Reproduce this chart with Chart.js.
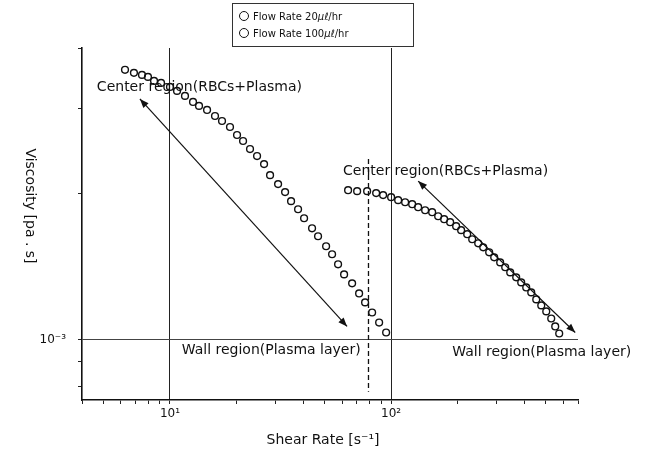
<!DOCTYPE html>
<html>
<head>
<meta charset="utf-8">
<script src="https://cdn.jsdelivr.net/npm/chart.js@4"></script>
<style>
  html, body { margin: 0; padding: 0; background: #fff; }
  #wrap { position: relative; width: 645px; height: 463px; }
  #legend { position: absolute; left: 232px; top: 3px; width: 182px; height: 44px; border: 1px solid #333;
            box-sizing: border-box; padding: 4px 0 0 6px; font-family: "DejaVu Sans", sans-serif; font-size: 10px; color: #111; }
  #legend .row { height: 17px; line-height: 17px; white-space: nowrap; }
  #legend .dot { display: inline-block; width: 8px; height: 8px; border: 1px solid #111; border-radius: 50%; margin-right: 4px; vertical-align: -1px; }
</style>
</head>
<body>
<div id="wrap">
  <canvas id="theChart" width="645" height="463"></canvas>
  <div id="legend"></div>
</div>
<script>
// series names
const seriesNames = ['Flow Rate 20μℓ/hr', 'Flow Rate 100μℓ/hr'];

// 20 ul/hr
const shearLow = [6.26, 6.87, 7.47, 7.95, 8.47, 9.11, 10.0, 10.76, 11.69, 12.71, 13.53, 14.71, 15.98, 17.19, 18.68,
  20.10, 21.40, 23.01, 24.76, 26.63, 28.35, 30.82, 33.15, 35.28, 37.95, 40.40, 43.90, 46.73, 50.81, 54.08,
  57.56, 61.28, 66.62, 71.65, 76.26, 82.04, 88.26, 94.93];
const viscLow = [3.606e-3, 3.554e-3, 3.520e-3, 3.486e-3, 3.421e-3, 3.388e-3, 3.324e-3, 3.262e-3, 3.185e-3, 3.095e-3,
  3.037e-3, 2.979e-3, 2.895e-3, 2.827e-3, 2.747e-3, 2.645e-3, 2.570e-3, 2.474e-3, 2.393e-3, 2.303e-3,
  2.185e-3, 2.094e-3, 2.016e-3, 1.931e-3, 1.858e-3, 1.780e-3, 1.697e-3, 1.634e-3, 1.558e-3, 1.500e-3,
  1.430e-3, 1.363e-3, 1.306e-3, 1.245e-3, 1.193e-3, 1.137e-3, 1.084e-3, 1.034e-3];

// 100 ul/hr
const shearHigh = [63.89, 70.19, 77.89, 85.56, 91.99, 100.0, 107.6, 115.7, 124.5, 132.5, 142.5, 153.3, 163.2, 173.7,
  184.9, 196.8, 207.3, 220.8, 232.6, 247.6, 260.9, 277.6, 292.5, 311.3, 328.0, 345.6, 367.8, 387.5, 408.3,
  430.2, 453.2, 477.5, 503.0, 529.7, 552.2, 575.6];
const viscHigh = [2.034e-3, 2.025e-3, 2.025e-3, 2.006e-3, 1.987e-3, 1.968e-3, 1.940e-3, 1.921e-3, 1.903e-3, 1.876e-3,
  1.849e-3, 1.832e-3, 1.797e-3, 1.772e-3, 1.747e-3, 1.714e-3, 1.682e-3, 1.650e-3, 1.611e-3, 1.580e-3,
  1.550e-3, 1.514e-3, 1.478e-3, 1.443e-3, 1.410e-3, 1.376e-3, 1.344e-3, 1.312e-3, 1.281e-3, 1.251e-3,
  1.210e-3, 1.176e-3, 1.143e-3, 1.105e-3, 1.064e-3, 1.029e-3];

// axes
const xTicks = [4, 5, 6, 7, 8, 9, 10, 20, 30, 40, 50, 60, 70, 80, 90, 100, 200, 300, 400, 500, 600, 700];
const yTicks = [8e-4, 9e-4, 1e-3, 2e-3, 3e-3, 4e-3];
const xTickLabels = {10: '10¹', 100: '10²'};
const yTickLabels = {'0.001': '10⁻³'};
const xTitle = 'Shear Rate [s⁻¹]';
const yTitle = 'Viscosity [pa . s]';

// annotations (data coords)
const regionTexts = [
  {text: 'Center region(RBCs+Plasma)', x: 4.67, y: 3.32e-3},
  {text: 'Center region(RBCs+Plasma)', x: 60.6, y: 2.22e-3},
  {text: 'Wall region(Plasma layer)', x: 11.3, y: 9.49e-4},
  {text: 'Wall region(Plasma layer)', x: 189, y: 9.4e-4}
];
const arrowLines = [
  [[7.31, 3.14e-3], [63.2, 1.064e-3]],
  [[132.5, 2.124e-3], [680, 1.034e-3]]
];
const dashX = 79;
const dashY = [2.36e-3, 7.8e-4];

const FONT = '"DejaVu Sans", sans-serif';

// legend
document.getElementById('legend').innerHTML = seriesNames.map(n =>
  '<div class="row"><span class="dot"></span>' + n.replace('μℓ', '<i>μℓ</i>') + '</div>').join('');

function toPts(xs, ys) {
  return xs.map((v, i) => ({x: v, y: ys[i]}));
}

function arrowHead(ctx, x1, y1, x2, y2) {
  const a = Math.atan2(y2 - y1, x2 - x1);
  const len = 9, w = 3.5;
  ctx.beginPath();
  ctx.moveTo(x2, y2);
  ctx.lineTo(x2 - len * Math.cos(a) + w * Math.sin(a), y2 - len * Math.sin(a) - w * Math.cos(a));
  ctx.lineTo(x2 - len * Math.cos(a) - w * Math.sin(a), y2 - len * Math.sin(a) + w * Math.cos(a));
  ctx.closePath();
  ctx.fill();
}

const overlay = {
  id: 'overlay',
  afterDatasetsDraw(chart) {
    const {ctx, scales: {x, y}} = chart;
    ctx.save();
    ctx.strokeStyle = '#111';
    ctx.fillStyle = '#111';

    // dashed divider
    ctx.lineWidth = 1.3;
    ctx.setLineDash([5, 3]);
    ctx.beginPath();
    ctx.moveTo(x.getPixelForValue(dashX), y.getPixelForValue(dashY[0]));
    ctx.lineTo(x.getPixelForValue(dashX), y.getPixelForValue(dashY[1]));
    ctx.stroke();
    ctx.setLineDash([]);

    // double arrows
    ctx.lineWidth = 1.2;
    arrowLines.forEach(([p, q]) => {
      const x1 = x.getPixelForValue(p[0]), y1 = y.getPixelForValue(p[1]);
      const x2 = x.getPixelForValue(q[0]), y2 = y.getPixelForValue(q[1]);
      ctx.beginPath(); ctx.moveTo(x1, y1); ctx.lineTo(x2, y2); ctx.stroke();
      arrowHead(ctx, x1, y1, x2, y2);
      arrowHead(ctx, x2, y2, x1, y1);
    });

    // region labels
    ctx.font = '14px ' + FONT;
    ctx.textAlign = 'left';
    ctx.textBaseline = 'middle';
    regionTexts.forEach(t => ctx.fillText(t.text, x.getPixelForValue(t.x), y.getPixelForValue(t.y)));

    // axis titles
    ctx.textAlign = 'center';
    ctx.fillText(xTitle, 323, 440);
    ctx.translate(30, 206);
    ctx.rotate(Math.PI / 2);   // reads top to bottom
    ctx.fillText(yTitle, 0, 0);
    ctx.restore();
  }
};

const chart = new Chart(document.getElementById('theChart').getContext('2d'), {
  type: 'scatter',
  data: {
    datasets: [
      {label: seriesNames[0], data: toPts(shearLow, viscLow)},
      {label: seriesNames[1], data: toPts(shearHigh, viscHigh)}
    ].map(d => Object.assign(d, {
      pointStyle: 'circle', pointRadius: 3.4, pointBorderWidth: 1.4,
      borderColor: '#111', backgroundColor: 'rgba(255,255,255,0)', showLine: false
    }))
  },
  options: {
    responsive: false,
    animation: false,
    layout: {padding: {top: 48, right: 67, left: 0, bottom: 0}},
    plugins: {legend: {display: false}, tooltip: {enabled: false}},
    scales: {
      x: {
        type: 'logarithmic', min: 4, max: 700,
        afterBuildTicks: s => { s.ticks = xTicks.map(v => ({value: v})); },
        afterFit: s => { s.height = 63; },
        ticks: {autoSkip: false, maxRotation: 0, padding: 3, color: '#111', font: {family: FONT, size: 12},
          callback: v => xTickLabels[v] || ''},
        grid: {color: c => (c.tick && xTickLabels[c.tick.value]) ? '#222' : 'rgba(0,0,0,0)',
          tickColor: '#222', tickLength: 4, lineWidth: 1},
        border: {color: '#111', width: 1.6}
      },
      y: {
        type: 'logarithmic', min: 7.5e-4, max: 4e-3,
        afterBuildTicks: s => { s.ticks = yTicks.map(v => ({value: v})); },
        afterFit: s => { s.width = 82; },
        ticks: {autoSkip: false, padding: 12, color: '#111', font: {family: FONT, size: 12},
          callback: v => yTickLabels[String(v)] || ''},
        grid: {color: c => (c.tick && yTickLabels[String(c.tick.value)]) ? '#444' : 'rgba(0,0,0,0)',
          tickColor: '#222', tickLength: 4, lineWidth: 1},
        border: {color: '#111', width: 1.6}
      }
    }
  },
  plugins: [overlay]
});
</script>
</body>
</html>
